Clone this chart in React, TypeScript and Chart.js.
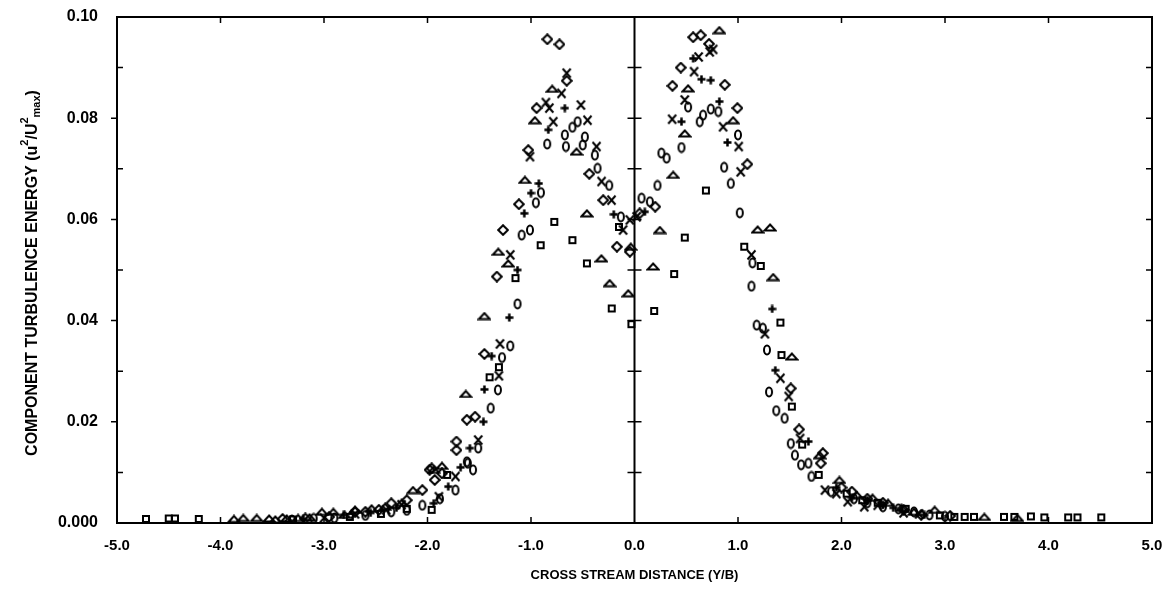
import React, { useEffect, useRef } from 'react';
import { Chart, registerables } from 'chart.js';

Chart.register(...registerables);

// ---- data (x = Y/B, y = u^2/U^2max) ----
const squares: [number, number][] = [
  [-4.72, 0.0008], [-4.5, 0.0009], [-4.44, 0.0009], [-4.21, 0.0008], [-3.3, 0.0007], [-2.75, 0.0012],
  [-2.45, 0.0018], [-2.2, 0.0028], [-1.96, 0.0026], [-1.81, 0.0095], [-1.4, 0.0288], [-1.31, 0.0308],
  [-1.15, 0.0484], [-0.907, 0.0549], [-0.775, 0.0595], [-0.6, 0.0559], [-0.46, 0.0513], [-0.22, 0.0424],
  [-0.15, 0.0585], [-0.03, 0.0393], [0.19, 0.0419], [0.383, 0.0492], [0.486, 0.0564], [0.69, 0.0657],
  [1.06, 0.0546], [1.22, 0.0508], [1.41, 0.0396], [1.42, 0.0332], [1.52, 0.023], [1.62, 0.0155],
  [1.78, 0.0095], [2.05, 0.0058], [2.2, 0.0045], [2.35, 0.004], [2.62, 0.0028], [2.95, 0.0015], [3.09, 0.0012],
  [3.19, 0.0012], [3.28, 0.0012], [3.57, 0.0012], [3.67, 0.0012], [3.83, 0.0013], [3.96, 0.0011],
  [4.19, 0.0011], [4.28, 0.0011], [4.51, 0.0011],
];

const circles: [number, number][] = [
  [-3.31, 0.0006], [-3.1, 0.0009], [-2.9, 0.001], [-2.6, 0.0015], [-2.35, 0.0022], [-2.2, 0.0025],
  [-2.05, 0.0035], [-1.88, 0.0048],
  [-1.73, 0.0065], [-1.56, 0.0105], [-1.61, 0.0118], [-1.62, 0.0121], [-1.51, 0.0148], [-1.39, 0.0227],
  [-1.32, 0.0263], [-1.28, 0.0327], [-1.2, 0.035], [-1.13, 0.0433], [-1.09, 0.0569], [-1.01, 0.0579],
  [-0.953, 0.0633], [-0.904, 0.0653], [-0.843, 0.0749], [-0.673, 0.0767], [-0.663, 0.0744], [-0.6, 0.0782],
  [-0.55, 0.0793], [-0.5, 0.0747], [-0.48, 0.0763], [-0.383, 0.0727], [-0.357, 0.0701], [-0.244, 0.0667],
  [-0.132, 0.0605], [0.068, 0.0642], [0.148, 0.0635], [0.222, 0.0667], [0.26, 0.0731], [0.31, 0.0721],
  [0.454, 0.0742], [0.518, 0.0822], [0.63, 0.0793], [0.663, 0.0806], [0.737, 0.0818], [0.81, 0.0813],
  [0.866, 0.0703], [0.93, 0.0671], [1.0, 0.0767], [1.017, 0.0613], [1.13, 0.0468], [1.14, 0.0514],
  [1.18, 0.0391], [1.24, 0.0385], [1.28, 0.0342], [1.3, 0.0259], [1.37, 0.0222], [1.45, 0.0207],
  [1.51, 0.0157], [1.55, 0.0134], [1.61, 0.0115], [1.68, 0.0118], [1.71, 0.0092], [1.9, 0.0062],
  [2.12, 0.0048], [2.25, 0.004], [2.4, 0.0032], [2.55, 0.0028], [2.7, 0.0022], [2.85, 0.0016], [3.0, 0.0013],
];

const triangles: [number, number][] = [
  [-3.87, 0.0008], [-3.78, 0.001], [-3.65, 0.001], [-3.53, 0.0009], [-3.47, 0.0007], [-3.36, 0.0009],
  [-3.25, 0.001], [-3.14, 0.0011], [-3.02, 0.0022], [-2.91, 0.0022], [-2.8, 0.0016], [-2.7, 0.0026],
  [-2.54, 0.0029], [-2.41, 0.0032], [-2.25, 0.004],
  [-2.14, 0.0065], [-1.94, 0.0105], [-1.86, 0.0113], [-1.63, 0.0255], [-1.45, 0.0409], [-1.316, 0.0536],
  [-1.22, 0.0513], [-1.059, 0.0678], [-0.962, 0.0796], [-0.795, 0.0858], [-0.56, 0.0734], [-0.46, 0.0612],
  [-0.32, 0.0523], [-0.24, 0.0474], [-0.06, 0.0454], [-0.036, 0.0546], [0.18, 0.0507], [0.245, 0.0579],
  [0.374, 0.0688], [0.486, 0.077], [0.518, 0.0859], [0.82, 0.0974], [0.953, 0.0796], [1.19, 0.058],
  [1.31, 0.0584], [1.34, 0.0486], [1.52, 0.0329], [1.79, 0.0134], [1.98, 0.0085], [2.15, 0.0055],
  [2.3, 0.005], [2.45, 0.004], [2.58, 0.003], [2.7, 0.0022], [2.9, 0.0026], [3.38, 0.0012], [3.7, 0.001],
];

const diamonds: [number, number][] = [
  [-3.4, 0.0008], [-3.18, 0.0009], [-2.95, 0.0012], [-2.7, 0.0022], [-2.6, 0.0022], [-2.47, 0.0026],
  [-2.35, 0.0039], [-2.2, 0.0045],
  [-2.05, 0.0065], [-1.98, 0.0105], [-1.96, 0.0108], [-1.93, 0.0085], [-1.86, 0.0098], [-1.72, 0.0161],
  [-1.72, 0.0144], [-1.62, 0.0204], [-1.54, 0.021], [-1.45, 0.0334], [-1.33, 0.0487], [-1.27, 0.0579],
  [-1.117, 0.063], [-1.026, 0.0737], [-0.946, 0.082], [-0.842, 0.0956], [-0.725, 0.0946], [-0.655, 0.0874],
  [-0.437, 0.069], [-0.302, 0.0638], [-0.17, 0.0546], [-0.045, 0.0536], [0.05, 0.0612], [0.2, 0.0625],
  [0.367, 0.0864], [0.447, 0.09], [0.567, 0.096], [0.64, 0.0964], [0.72, 0.0947], [0.872, 0.0866],
  [0.994, 0.082], [1.09, 0.0709], [1.51, 0.0266], [1.59, 0.0185], [1.8, 0.0118], [1.82, 0.0138],
  [2.0, 0.007], [2.1, 0.0062], [2.25, 0.0048], [2.4, 0.004], [2.6, 0.0026], [2.77, 0.0016], [3.05, 0.0014],
];

const pluses: [number, number][] = [
  [-3.2, 0.0008], [-2.81, 0.0016], [-2.55, 0.002], [-2.3, 0.003], [-1.94, 0.0039], [-1.8, 0.0072],
  [-1.68, 0.011], [-1.59, 0.0148],
  [-1.46, 0.02], [-1.45, 0.0264], [-1.38, 0.033], [-1.21, 0.0406], [-1.13, 0.05], [-1.065, 0.0612],
  [-1.0, 0.0652], [-0.924, 0.0671], [-0.833, 0.0777], [-0.673, 0.082], [-0.2, 0.061], [0.1, 0.0615],
  [0.454, 0.0793], [0.567, 0.0918], [0.647, 0.0877], [0.737, 0.0875], [0.82, 0.0833], [0.898, 0.0752],
  [1.33, 0.0423], [1.36, 0.0302], [1.68, 0.0161], [1.95, 0.007], [2.1, 0.005], [2.25, 0.0045],
  [2.4, 0.0036], [2.5, 0.003], [2.8, 0.0016],
];

const crosses: [number, number][] = [
  [-3.0, 0.001], [-2.7, 0.0018], [-2.4, 0.0026], [-2.25, 0.0036], [-1.89, 0.0052], [-1.73, 0.0092],
  [-1.51, 0.0164], [-1.31, 0.0291],
  [-1.3, 0.0354], [-1.2, 0.053], [-1.01, 0.0724], [-0.856, 0.0831], [-0.823, 0.082], [-0.785, 0.0793],
  [-0.705, 0.0849], [-0.655, 0.0889], [-0.518, 0.0826], [-0.454, 0.0796], [-0.367, 0.0744], [-0.318, 0.0675],
  [-0.222, 0.0638], [-0.11, 0.0579], [-0.045, 0.0599], [0.02, 0.0605], [0.364, 0.0798], [0.486, 0.0836],
  [0.576, 0.0892], [0.62, 0.0921], [0.727, 0.0931], [0.76, 0.0936], [0.856, 0.0783], [1.007, 0.0744],
  [1.026, 0.0694], [1.13, 0.053], [1.26, 0.0374], [1.41, 0.0286], [1.49, 0.025], [1.6, 0.0167],
  [1.84, 0.0065], [1.95, 0.0058], [2.06, 0.0042], [2.22, 0.0032], [2.35, 0.0035], [2.6, 0.002], [2.75, 0.0018],
];

const X_MIN = -5;
const X_MAX = 5;
const Y_MIN = 0;
const Y_MAX = 0.1;
const X_TITLE = 'CROSS STREAM DISTANCE (Y/B)';
const Y_TITLE_PARTS: { t: string; k: 'n' | 'sup' | 'sub' }[] = [
  { t: 'COMPONENT TURBULENCE ENERGY (u', k: 'n' },
  { t: '2', k: 'sup' },
  { t: '/U', k: 'n' },
  { t: '2', k: 'sup' },
  { t: 'max', k: 'sub' },
  { t: ')', k: 'n' },
];

const FONT = '"Liberation Sans", Arial, sans-serif';

function makeMarker(w: number, h: number, draw: (ctx: CanvasRenderingContext2D) => void) {
  const c = document.createElement('canvas');
  c.width = w;
  c.height = h;
  const ctx = c.getContext('2d')!;
  ctx.strokeStyle = '#000';
  ctx.fillStyle = '#000';
  ctx.lineWidth = 2;
  draw(ctx);
  return c;
}

const framePlugin = {
  id: 'frame',
  afterDatasetsDraw(chart: any) {
    const { ctx, chartArea, scales } = chart;
    const { left, right, top, bottom } = chartArea;
    const xs = scales.x;
    const ys = scales.y;
    ctx.save();
    ctx.strokeStyle = '#000';
    ctx.lineWidth = 2;
    ctx.strokeRect(left, top, right - left, bottom - top);
    const x0 = xs.getPixelForValue(0);
    ctx.beginPath();
    ctx.moveTo(x0, top);
    ctx.lineTo(x0, bottom);
    ctx.stroke();
    ctx.lineWidth = 1.5;
    for (let i = 1; i < 10; i++) {
      const py = ys.getPixelForValue(i / 100);
      ctx.beginPath();
      if (i % 2 === 0) {
        ctx.moveTo(left - 6, py);
        ctx.lineTo(left, py);
      } else {
        ctx.moveTo(left, py);
        ctx.lineTo(left + 6, py);
      }
      ctx.moveTo(right - 6, py);
      ctx.lineTo(right, py);
      ctx.moveTo(x0 - 7, py);
      ctx.lineTo(x0 + 7, py);
      ctx.stroke();
    }
    for (let v = X_MIN + 1; v < X_MAX; v++) {
      if (v === 0) continue;
      const px = xs.getPixelForValue(v);
      ctx.beginPath();
      ctx.moveTo(px, bottom);
      ctx.lineTo(px, bottom - 6);
      ctx.moveTo(px, top);
      ctx.lineTo(px, top + 6);
      ctx.stroke();
    }
    ctx.restore();
  },
  afterDraw(chart: any) {
    const { ctx, chartArea } = chart;
    const cy = (chartArea.top + chartArea.bottom) / 2 + 3;
    const cx = 33;
    const big = `bold 16px ${FONT}`;
    const small = `bold 11px ${FONT}`;
    ctx.save();
    let total = 0;
    const widths = Y_TITLE_PARTS.map((p) => {
      ctx.font = p.k === 'n' ? big : small;
      const w = ctx.measureText(p.t).width;
      total += w;
      return w;
    });
    ctx.translate(cx, cy);
    ctx.rotate(-Math.PI / 2);
    ctx.fillStyle = '#000';
    ctx.textBaseline = 'middle';
    ctx.textAlign = 'left';
    let pos = -total / 2;
    Y_TITLE_PARTS.forEach((p, i) => {
      ctx.font = p.k === 'n' ? big : small;
      const dy = p.k === 'sup' ? -8 : p.k === 'sub' ? 4 : 0;
      ctx.fillText(p.t, pos, dy);
      pos += widths[i];
    });
    ctx.restore();
  },
};

export default function App() {
  const ref = useRef<HTMLCanvasElement | null>(null);

  useEffect(() => {
    if (!ref.current) return;
    const sq = makeMarker(10, 10, (c) => c.strokeRect(2, 2, 6, 6));
    const ci = makeMarker(10, 12, (c) => {
      c.beginPath();
      c.ellipse(5, 6, 3, 4.4, 0, 0, Math.PI * 2);
      c.stroke();
    });
    const tr = makeMarker(14, 9, (c) => {
      c.beginPath();
      c.moveTo(1.5, 7.5);
      c.lineTo(7, 1.5);
      c.lineTo(12.5, 7.5);
      c.closePath();
      c.stroke();
    });
    const di = makeMarker(12, 12, (c) => {
      c.beginPath();
      c.moveTo(6, 1.2);
      c.lineTo(10.8, 6);
      c.lineTo(6, 10.8);
      c.lineTo(1.2, 6);
      c.closePath();
      c.stroke();
    });
    const pl = makeMarker(9, 9, (c) => {
      c.lineWidth = 2.5;
      c.beginPath();
      c.moveTo(4.5, 0.5);
      c.lineTo(4.5, 8.5);
      c.moveTo(0.5, 4.5);
      c.lineTo(8.5, 4.5);
      c.stroke();
    });
    const cr = makeMarker(11, 12, (c) => {
      c.beginPath();
      c.moveTo(1.5, 1.5);
      c.lineTo(9.5, 10.5);
      c.moveTo(9.5, 1.5);
      c.lineTo(1.5, 10.5);
      c.stroke();
    });

    const mk = (label: string, pts: [number, number][], style: HTMLCanvasElement) => ({
      label,
      data: pts.map(([x, y]) => ({ x, y })),
      pointStyle: style,
      pointRadius: 4,
      showLine: false,
      borderColor: '#000',
      backgroundColor: '#000',
    });

    const chart = new Chart(ref.current, {
      type: 'scatter',
      data: {
        datasets: [
          mk('squares', squares, sq),
          mk('circles', circles, ci),
          mk('triangles', triangles, tr),
          mk('diamonds', diamonds, di),
          mk('pluses', pluses, pl),
          mk('crosses', crosses, cr),
        ],
      },
      options: {
        responsive: false,
        animation: false,
        layout: { padding: { left: 0, top: 17, right: 17, bottom: 0 } },
        plugins: { legend: { display: false }, tooltip: { enabled: false } },
        scales: {
          x: {
            type: 'linear',
            min: X_MIN,
            max: X_MAX,
            grid: { display: false, drawTicks: false },
            border: { display: false },
            afterFit: (s: any) => {
              s.height = 71;
              s.paddingLeft = 0;
              s.paddingRight = 0;
            },
            ticks: {
              stepSize: 1,
              padding: 14,
              color: '#000',
              font: { family: FONT, size: 15, weight: 'bold' },
              callback: (v: any) => Number(v).toFixed(1),
            },
            title: {
              display: true,
              text: X_TITLE,
              color: '#000',
              font: { family: FONT, size: 13, weight: 'bold' },
              padding: { top: 0, bottom: 11 },
            },
          },
          y: {
            type: 'linear',
            min: Y_MIN,
            max: Y_MAX,
            grid: { display: false, drawTicks: false },
            border: { display: false },
            afterFit: (s: any) => {
              s.width = 117;
              s.paddingTop = 0;
              s.paddingBottom = 0;
            },
            ticks: {
              stepSize: 0.01,
              padding: 19,
              color: '#000',
              font: { family: FONT, size: 16, weight: 'bold' },
              callback: (v: any) => {
                const n = Math.round(Number(v) * 100);
                if (n % 2 !== 0) return '';
                return n === 0 ? '0.000' : (n / 100).toFixed(2);
              },
            },
          },
        },
      },
      plugins: [framePlugin],
    } as any);
    return () => chart.destroy();
  }, []);

  return (
    <div style={{ position: 'absolute', left: 0, top: 0, width: 1169, height: 594, background: '#fff' }}>
      <canvas ref={ref} width={1169} height={594} style={{ display: 'block' }} />
    </div>
  );
}
